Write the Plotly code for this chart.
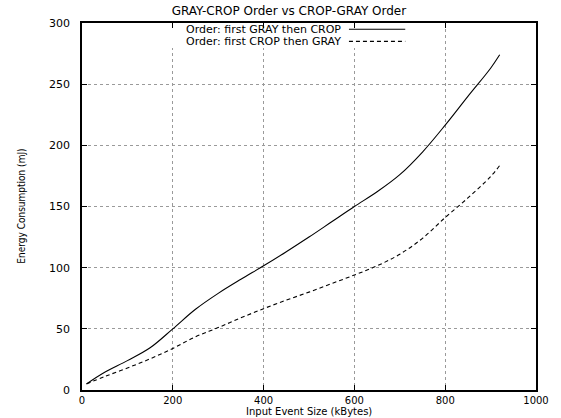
import plotly.graph_objects as go

# Input event sizes (kBytes)
sizes = [10, 50, 100, 150, 200, 250, 300, 350, 400, 450, 500,
         550, 600, 650, 700, 750, 800, 850, 900, 920]

# Energy consumption (mJ) for each processing order
gray_then_crop = [5, 14.5, 24, 34.5, 50, 66, 79, 90.5, 101.5, 113, 125,
                  137.5, 150, 162, 176, 194.5, 216.5, 240, 263, 274]
crop_then_gray = [5, 11, 18, 25.5, 34, 43.5, 51, 59, 66.5, 73.5, 80,
                  87, 94, 101.5, 111, 124, 141, 157, 174.5, 183.5]

series_names = ["Order: first GRAY then CROP", "Order: first CROP then GRAY"]
series_dash = ["solid", "4px,3px"]

x_ticks = [0, 200, 400, 600, 800, 1000]
y_ticks = [0, 50, 100, 150, 200, 250, 300]

FONT = "DejaVu Sans, Verdana, sans-serif"
NARROW = "Liberation Sans Narrow, DejaVu Sans Condensed, Arial Narrow, sans-serif"

fig = go.Figure()
for ys, name, dash in zip([gray_then_crop, crop_then_gray], series_names, series_dash):
    fig.add_trace(go.Scatter(
        x=sizes, y=ys, name=name, mode="lines",
        line=dict(color="black", width=1.1, dash=dash, shape="spline", smoothing=1.0),
        showlegend=False,
    ))

axis_common = dict(
    showline=True, linecolor="black", linewidth=1.5, mirror="allticks",
    ticks="inside", ticklen=5, tickwidth=1, tickcolor="black",
    showgrid=True, gridcolor="#9a9a9a", gridwidth=1, griddash="dot",
    zeroline=False,
)

fig.update_xaxes(range=[0, 1000], tickvals=x_ticks, ticktext=[str(v) for v in x_ticks],
                 ticklabelstandoff=0, tickfont=dict(family=FONT, size=10, color="black"),
                 **axis_common)
fig.update_yaxes(range=[0, 300], tickvals=y_ticks, ticktext=[str(v) for v in y_ticks],
                 ticklabelstandoff=8, tickfont=dict(family=FONT, size=11, color="black"),
                 **axis_common)

# Axis titles
fig.add_annotation(xref="paper", yref="paper", x=0.5, y=-0.0595,
                   text="Input Event Size (kBytes)", showarrow=False,
                   xanchor="center", yanchor="middle",
                   font=dict(family=FONT, size=10, color="black"))
fig.add_annotation(xref="paper", yref="paper", x=-0.134, y=0.5, textangle=-90,
                   text="Energy Consumption (mJ)", showarrow=False,
                   xanchor="center", yanchor="middle",
                   font=dict(family=NARROW, size=10, color="black"))

# Key: text right-aligned, line sample to its right, grid hidden behind it
key_text_right = 0.575
key_line = (0.588, 0.712)
key_rows = [0.983, 0.950]
fig.add_shape(type="rect", xref="paper", yref="paper", x0=0.165, x1=0.72,
              y0=0.932, y1=0.984, fillcolor="white", line=dict(width=0),
              layer="above")
for name, dash, yr in zip(series_names, series_dash, key_rows):
    fig.add_annotation(xref="paper", yref="paper", x=key_text_right, y=yr,
                       text=name, showarrow=False, xanchor="right", yanchor="middle",
                       font=dict(family=FONT, size=11, color="black"))
    fig.add_shape(type="line", xref="paper", yref="paper",
                  x0=key_line[0], x1=key_line[1], y0=yr, y1=yr,
                  line=dict(color="black", width=1.1, dash=dash), layer="above")

fig.update_layout(
    width=561, height=418,
    margin=dict(l=82, r=22, t=23, b=28),
    paper_bgcolor="white", plot_bgcolor="white",
    title=dict(text="GRAY-CROP Order vs CROP-GRAY Order", x=0.515, xanchor="center",
               y=0.975, yanchor="middle", xref="container", yref="container",
               font=dict(family=FONT, size=12, color="black")),
    showlegend=False,
)

fig.write_html("out.html")
